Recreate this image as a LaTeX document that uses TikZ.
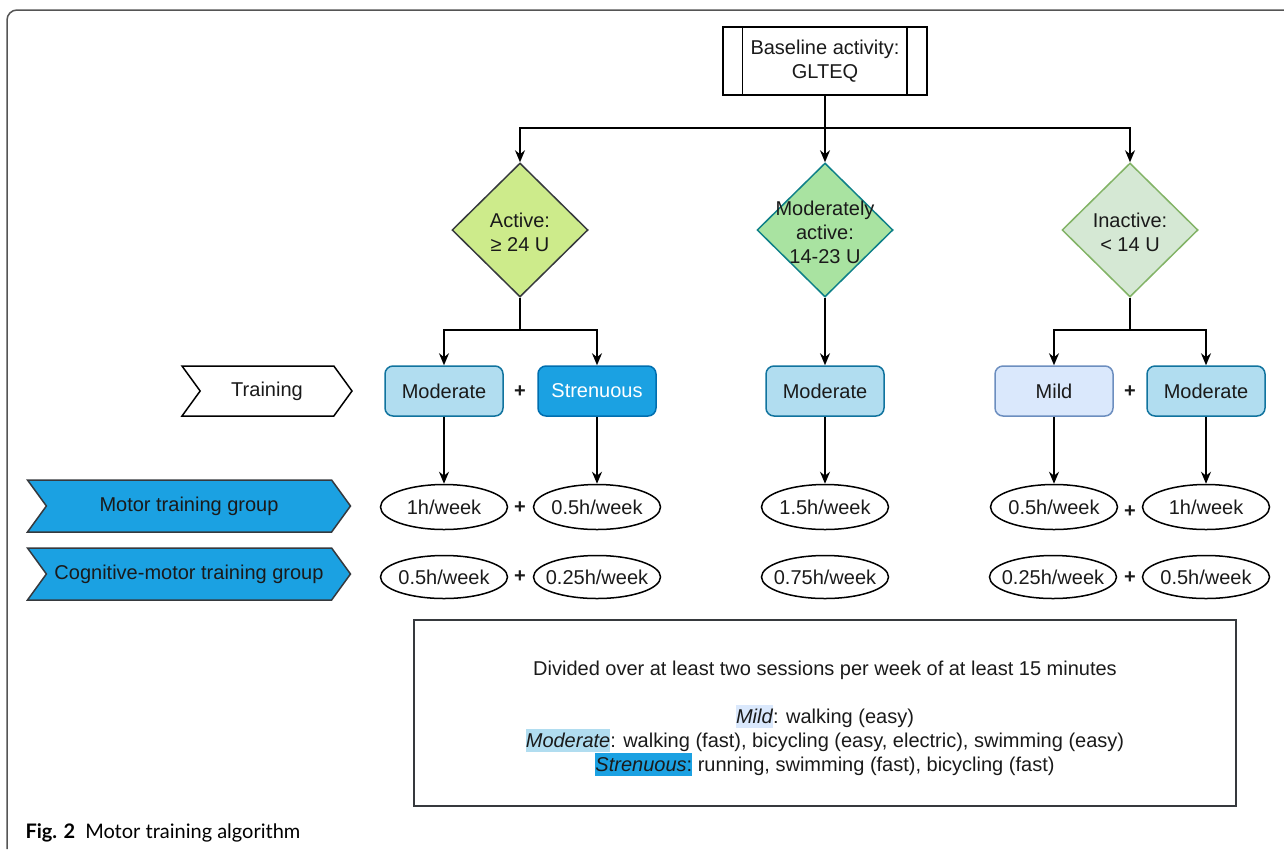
\documentclass[tikz,border=0pt]{standalone}
\usepackage{fontspec}
\setmainfont{Liberation Sans}
\newfontfamily\capfont{Lato}
\usetikzlibrary{arrows.meta,shapes.geometric,shapes.symbols}
\usepackage{xcolor}
\definecolor{txt}{HTML}{1A1A1A}
\definecolor{actfill}{HTML}{CDEB8B}
\definecolor{actline}{HTML}{36393D}
\definecolor{medfill}{HTML}{A9E3A1}
\definecolor{medline}{HTML}{0E8088}
\definecolor{inafill}{HTML}{D5E8D4}
\definecolor{inaline}{HTML}{82B366}
\definecolor{modfill}{HTML}{B1DDF0}
\definecolor{modline}{HTML}{10739E}
\definecolor{strfill}{HTML}{1BA1E2}
\definecolor{strline}{HTML}{006EAF}
\definecolor{mildfill}{HTML}{DAE8FC}
\definecolor{mildline}{HTML}{6C8EBF}
\definecolor{framecol}{HTML}{555555}
\newcommand{\hlbox}[2]{{\setlength{\fboxsep}{0pt}\colorbox{#1}{\rule[-5pt]{0pt}{23pt}#2}}}

\begin{document}
\begin{tikzpicture}[x=1pt,y=-1pt]
 \tikzstyle{every node}=[font=\fontsize{20}{24}\selectfont, text=txt]
 \tikzstyle{arr}=[-{Stealth[length=12pt,width=10pt]}, line width=1.6pt, black]
 \tikzstyle{rule}=[diamond, line width=1.5pt, minimum width=136pt, minimum height=134pt, inner sep=0pt]
 \tikzstyle{tbox}=[rectangle, rounded corners=8pt, line width=1.5pt,
                   minimum width=118pt, minimum height=50pt]
 \tikzstyle{dose}=[ellipse, draw=black, line width=1.5pt, minimum width=127pt,
                   minimum height=45pt, inner xsep=-8pt, inner ysep=0pt]
 \tikzstyle{banner}=[signal, signal from=west, signal to=east, signal pointer angle=108,
                     line width=1.5pt, inner sep=0pt]
 \tikzstyle{plus}=[font=\fontsize{20}{24}\selectfont\bfseries]

\useasboundingbox (0,0) rectangle (1284,849);
\draw[framecol, line width=1.5pt, rounded corners=10pt] (7,849) -- (7,10) -- (1284,10);

\node[draw=black, line width=1.5pt, minimum width=204pt, minimum height=68pt, align=center]
  (base) at (825,61) {Baseline activity:\\GLTEQ};
\draw[line width=1.5pt] ([xshift=20pt]base.north west) -- ([xshift=20pt]base.south west)
  ([xshift=-21pt]base.north east) -- ([xshift=-21pt]base.south east);

\node[rule, draw=actline, fill=actfill, label={[align=center,yshift=-2pt]center:Active:\\≥ 24 U}]
  (act) at (520,230) {};
\node[rule, draw=medline, fill=medfill, label={[align=center,yshift=-2pt]center:Moderately\\active:\\14-23 U}]
  (medact) at (825,230) {};
\node[rule, draw=inaline, fill=inafill, label={[align=center,yshift=-2pt]center:Inactive:\\< 14 U}]
  (inact) at (1130,230) {};

\coordinate (split0) at (825,128);
\coordinate (splitA) at (520,330);
\coordinate (splitC) at (1130,330);

\node[banner, draw=black, fill=white, minimum width=170pt, minimum height=50pt]
  (train) at (267,391) {Training};
\node[tbox, draw=modline, fill=modfill] (modA) at (444,391) {Moderate};
\node[tbox, draw=strline, fill=strfill, text=white] (strA) at (597,391) {Strenuous};
\node[tbox, draw=modline, fill=modfill] (modB) at (825,391) {Moderate};
\node[tbox, draw=mildline, fill=mildfill] (mildC) at (1054,391) {Mild};
\node[tbox, draw=modline, fill=modfill] (modC) at (1206,391) {Moderate};
\node[plus] (plusT1) at (520,392) {+};
\node[plus] (plusT2) at (1130,392) {+};

\node[banner, draw=actline, fill=strfill, minimum width=323pt, minimum height=52pt]
  (motor) at (189,506) {Motor training group};
\node[banner, draw=actline, fill=strfill, minimum width=323pt, minimum height=52pt]
  (cogmot) at (189,574) {Cognitive-motor training group};

\node[dose] (motA1) at (444,507) {1h/week};
\node[dose] (motA2) at (597,507) {0.5h/week};
\node[dose] (motB) at (825,507) {1.5h/week};
\node[dose] (motC1) at (1054,507) {0.5h/week};
\node[dose] (motC2) at (1206,507) {1h/week};
\node[plus] (plusM1) at (520,508) {+};
\node[plus] (plusM2) at (1130,512) {+};

\node[dose, minimum height=43pt] (cogA1) at (444,577) {0.5h/week};
\node[dose, minimum height=43pt] (cogA2) at (597,577) {0.25h/week};
\node[dose, minimum height=43pt] (cogB) at (825,577) {0.75h/week};
\node[dose, minimum height=43pt] (cogC1) at (1053,577) {0.25h/week};
\node[dose, minimum height=43pt] (cogC2) at (1206,577) {0.5h/week};
\node[plus] (plusC1) at (520,577) {+};
\node[plus] (plusC2) at (1130,578) {+};

\draw[line width=1.6pt] (base.south) -- (split0);
\draw[arr] (split0) -| (act.north);
\draw[arr] (split0) -- (medact.north);
\draw[arr] (split0) -| (inact.north);

\draw[line width=1.6pt] (act.south) -- (splitA) (inact.south) -- (splitC);
\draw[arr] (splitA) -| (modA.north);
\draw[arr] (splitA) -| (strA.north);
\draw[arr] (splitC) -| (mildC.north);
\draw[arr] (splitC) -| (modC.north);
\path[arr]
    (medact.south) edge (modB.north)
    (modA.south) edge (motA1.north)
    (strA.south) edge (motA2.north)
    (modB.south) edge (motB.north)
    (mildC.south) edge (motC1.north)
    (modC.south) edge (motC2.north);

\node[draw=actline, line width=1.5pt, minimum width=822pt, minimum height=186pt, align=center]
  (note) at (825,713)
  {\rule{0pt}{25pt}Divided over at least two sessions per week of at least 15 minutes\\[24pt]
   \hlbox{mildfill}{\textit{Mild}}: walking (easy)\\
   \hlbox{modfill}{\textit{Moderate}}: walking (fast), bicycling (easy, electric), swimming (easy)\\
   \hlbox{strfill}{\textit{Strenuous}:} running, swimming (fast), bicycling (fast)};

\node[anchor=base west, font=\capfont\fontsize{20}{24}\selectfont, text=black]
  (caption) at (22,838) {\textbf{Fig. 2}\hspace{0.5em}Motor training algorithm};
\end{tikzpicture}
\end{document}
